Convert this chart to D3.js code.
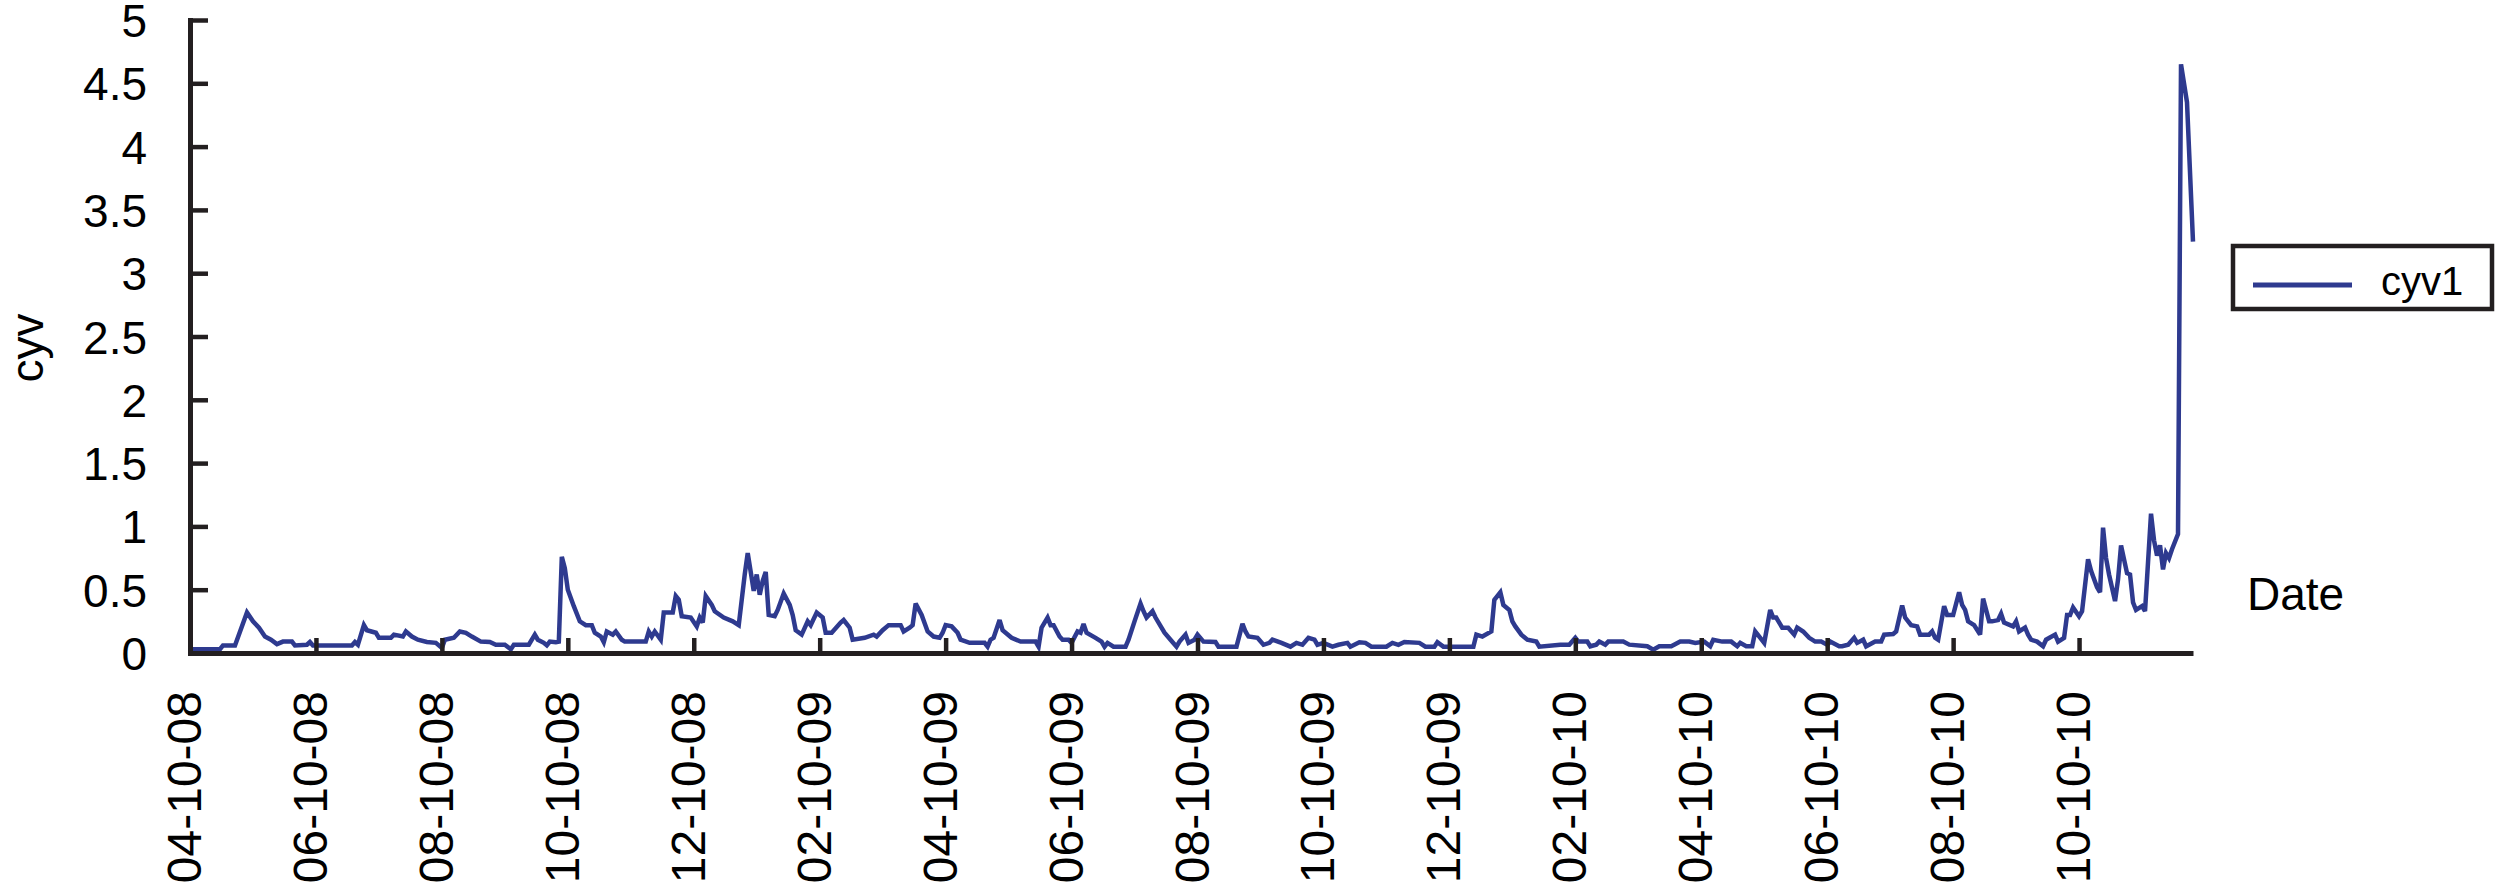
<!DOCTYPE html>
<html>
<head>
<meta charset="utf-8">
<script src="https://cdn.jsdelivr.net/npm/d3@7"></script>
<style>
  html, body { margin: 0; padding: 0; background: #ffffff; overflow: hidden; }
  svg { display: block; }
  text { font-family: "Liberation Sans", Arial, Helvetica, sans-serif; fill: #000; }
</style>
</head>
<body>
<svg id="chart" width="2495" height="884"></svg>
<script>
// ---- data (trading-day index from 04-10-08, value of cyv1) ----
const days = [0,10,11,15,19,21,23,25,27,29,31,34,35,39,40,41,54,55,56,58,59,62,63,67,68,71,72,74,76,79,82,84,85,88,90,92,94,97,100,102,105,107,108,113,115,116,118,119,120,122,123,124,125,126,128,130,132,134,135,137,138,139,141,142,144,145,152,153,154,155,157,158,161,162,163,164,167,169,170,171,172,174,175,178,181,183,185,186,188,189,190,191,192,193,195,196,198,200,201,202,204,206,207,209,211,212,214,217,218,220,221,225,228,229,231,233,237,238,240,241,242,244,246,248,250,251,252,254,256,257,260,265,266,267,268,270,271,274,277,282,283,284,286,287,288,290,291,293,294,296,297,298,299,302,304,305,306,308,312,313,315,317,318,319,321,322,325,327,329,330,332,333,335,336,338,342,343,349,351,352,353,356,358,360,361,364,367,369,371,373,375,376,378,381,383,386,387,390,392,394,399,401,403,405,410,412,415,416,418,428,429,431,434,435,437,438,440,441,442,444,446,449,450,457,460,462,463,466,467,469,470,472,473,478,480,486,488,490,494,497,500,502,505,507,508,511,514,516,517,519,521,522,525,527,528,529,531,533,535,536,538,540,542,544,546,547,550,551,553,555,556,558,559,562,564,565,568,569,571,572,574,576,577,580,581,582,583,585,586,588,590,591,592,593,595,597,598,600,601,603,604,605,607,608,609,610,612,613,614,616,618,619,622,623,625,626,627,628,630,631,633,634,636,637,638,639,640,642,643,644,646,647,648,649,651,652,654,655,656,657,658,659,660,661,663,664,666,668];
const cyv1 = [0.03,0.03,0.06,0.06,0.32,0.25,0.20,0.13,0.105,0.07,0.09,0.09,0.06,0.065,0.087,0.06,0.06,0.087,0.065,0.22,0.18,0.16,0.12,0.12,0.145,0.13,0.17,0.13,0.105,0.087,0.08,0.04,0.105,0.12,0.17,0.16,0.13,0.09,0.087,0.065,0.065,0.03,0.065,0.065,0.145,0.105,0.08,0.06,0.09,0.085,0.09,0.76,0.67,0.50,0.37,0.25,0.22,0.22,0.16,0.13,0.085,0.17,0.145,0.17,0.105,0.09,0.09,0.17,0.13,0.17,0.105,0.32,0.32,0.45,0.42,0.29,0.28,0.21,0.28,0.24,0.45,0.38,0.33,0.28,0.25,0.22,0.62,0.79,0.49,0.62,0.46,0.57,0.64,0.30,0.29,0.34,0.47,0.38,0.30,0.18,0.145,0.25,0.22,0.32,0.28,0.16,0.16,0.24,0.26,0.20,0.105,0.12,0.145,0.13,0.18,0.22,0.22,0.17,0.20,0.22,0.39,0.30,0.17,0.13,0.12,0.16,0.22,0.21,0.16,0.105,0.08,0.08,0.05,0.105,0.12,0.26,0.18,0.12,0.09,0.09,0.05,0.20,0.28,0.22,0.22,0.13,0.105,0.105,0.08,0.17,0.16,0.23,0.16,0.12,0.09,0.05,0.08,0.05,0.05,0.105,0.25,0.39,0.33,0.28,0.33,0.28,0.16,0.105,0.05,0.09,0.145,0.08,0.105,0.145,0.09,0.087,0.05,0.05,0.23,0.17,0.13,0.12,0.065,0.08,0.105,0.08,0.05,0.08,0.065,0.12,0.105,0.065,0.08,0.05,0.065,0.08,0.05,0.085,0.08,0.05,0.05,0.08,0.065,0.087,0.08,0.05,0.05,0.085,0.05,0.05,0.145,0.13,0.17,0.42,0.48,0.38,0.34,0.25,0.21,0.145,0.105,0.09,0.05,0.066,0.066,0.12,0.09,0.09,0.053,0.066,0.09,0.066,0.09,0.09,0.066,0.053,0.026,0.053,0.053,0.09,0.09,0.08,0.09,0.053,0.105,0.09,0.09,0.053,0.08,0.053,0.053,0.17,0.08,0.34,0.28,0.28,0.20,0.20,0.145,0.20,0.17,0.12,0.09,0.09,0.066,0.09,0.053,0.053,0.066,0.12,0.08,0.105,0.053,0.09,0.09,0.145,0.15,0.17,0.375,0.28,0.22,0.21,0.145,0.145,0.17,0.12,0.105,0.37,0.30,0.30,0.48,0.38,0.34,0.25,0.22,0.145,0.43,0.25,0.25,0.26,0.31,0.24,0.22,0.21,0.25,0.17,0.20,0.145,0.105,0.09,0.053,0.105,0.145,0.09,0.12,0.30,0.30,0.36,0.29,0.33,0.74,0.65,0.52,0.48,0.99,0.75,0.62,0.41,0.58,0.85,0.63,0.62,0.40,0.34,0.37,0.33,1.10,0.89,0.77,0.85,0.66,0.79,0.75,0.82,0.94,4.65,4.35,3.25];

const tickDays = [0,42,84,126,168,210,252,294,336,378,420,462,504,546,588,630];
const tickLabels = ["04-10-08","06-10-08","08-10-08","10-10-08","12-10-08","02-10-09","04-10-09","06-10-09","08-10-09","10-10-09","12-10-09","02-10-10","04-10-10","06-10-10","08-10-10","10-10-10"];
const yTicks = [0,0.5,1,1.5,2,2.5,3,3.5,4,4.5,5];
const seriesName = "cyv1";
const xTitle = "Date";
const yTitle = "cyv";

// ---- layout ----
const svg = d3.select("#chart");
const axisColor = "#231f20";
const lineColor = "#2e3a8f";

const x = d3.scaleLinear().domain([0, 668]).range([190, 2193]);
const y = d3.scaleLinear().domain([0, 5]).range([653, 20]);

const points = days.map((d, i) => ({ d, v: cyv1[i] }));

// series line
const line = d3.line().x(p => x(p.d)).y(p => y(p.v));
svg.append("path")
  .datum(points)
  .attr("fill", "none")
  .attr("stroke", lineColor)
  .attr("stroke-width", 4.5)
  .attr("stroke-linejoin", "miter")
  .attr("stroke-miterlimit", 3)
  .attr("d", line);

// y axis
const yAxis = d3.axisLeft(y)
  .tickValues(yTicks)
  .tickFormat(d3.format("~g"))
  .tickSizeInner(-18)
  .tickSizeOuter(0)
  .tickPadding(43);
const gy = svg.append("g").attr("transform", "translate(190,0)").call(yAxis);
gy.select(".domain").attr("stroke", axisColor).attr("stroke-width", 5).attr("stroke-linecap", "square");
gy.selectAll(".tick line").attr("stroke", axisColor).attr("stroke-width", 4.5);
gy.selectAll(".tick text")
  .attr("font-size", 46)
  .attr("font-family", "'Liberation Sans', Arial, sans-serif")
  .attr("fill", "#000")
  .attr("dy", "0.36em");

// x axis
const xAxis = d3.axisBottom(x)
  .tickValues(tickDays)
  .tickFormat((d, i) => tickLabels[i])
  .tickSizeInner(-15)
  .tickSizeOuter(0);
const gx = svg.append("g").attr("transform", "translate(0,653)").call(xAxis);
gx.select(".domain").attr("stroke", axisColor).attr("stroke-width", 5);
gx.selectAll(".tick line").attr("stroke", axisColor).attr("stroke-width", 4.5);
gx.selectAll(".tick text")
  .attr("font-size", 48)
  .attr("font-family", "'Liberation Sans', Arial, sans-serif")
  .attr("fill", "#000")
  .attr("transform", "rotate(-90)")
  .attr("text-anchor", "end")
  .attr("x", -38)
  .attr("y", 0)
  .attr("dy", "0.22em");

// y title
svg.append("text")
  .attr("transform", "translate(43,348) rotate(-90)")
  .attr("text-anchor", "middle")
  .attr("font-size", 46)
  .text(yTitle);

// x title
svg.append("text")
  .attr("x", 2247)
  .attr("y", 610)
  .attr("font-size", 46)
  .text(xTitle);

// legend
const lg = svg.append("g");
lg.append("rect")
  .attr("x", 2233).attr("y", 246)
  .attr("width", 259).attr("height", 63)
  .attr("fill", "#fff")
  .attr("stroke", axisColor)
  .attr("stroke-width", 4.5);
lg.append("line")
  .attr("x1", 2253).attr("x2", 2352)
  .attr("y1", 285).attr("y2", 285)
  .attr("stroke", lineColor)
  .attr("stroke-width", 5);
lg.append("text")
  .attr("x", 2381).attr("y", 295)
  .attr("font-size", 40)
  .text(seriesName);
</script>
</body>
</html>
